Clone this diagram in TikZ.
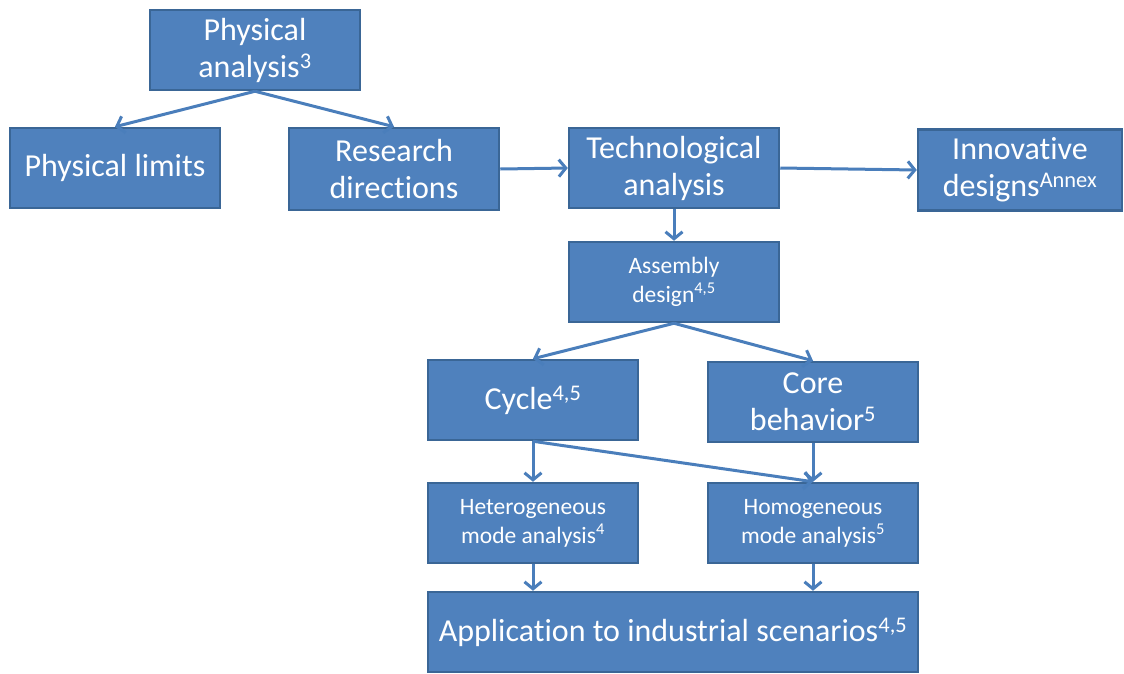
\documentclass[tikz,border=0pt]{standalone}
\usepackage{fontspec}
\setmainfont{Carlito}[Ligatures={NoCommon}]
\usepackage{xcolor}
\usetikzlibrary{arrows.meta}
\definecolor{boxfill}{HTML}{4F81BD}
\definecolor{boxline}{HTML}{3A6696}
\definecolor{linkblue}{HTML}{4A7EBB}
\tikzset{
  bigbox/.style={draw=boxline,fill=boxfill,line width=2.5pt,text=white,align=center,
    minimum width=210pt,minimum height=80pt,inner sep=0pt,font=\fontsize{32}{37}\selectfont},
  smallbox/.style={bigbox,font=\fontsize{23.5}{29}\selectfont},
  link/.style={draw=linkblue,line width=3pt,-{Straight Barb[length=7pt,width=17pt]}}
}

\begin{document}
\begin{tikzpicture}[x=1pt,y=-1pt]
\useasboundingbox (0,0) rectangle (1124,673);
\node[bigbox] (physan) at (255,50) {Physical\\analysis\textsuperscript{3}};
\node[bigbox] (limits) at (115,168) {Physical limits};
\node[bigbox,minimum height=82pt] (research) at (394,169) {Research\\directions};
\node[bigbox] (techan) at (674,168) {Technological\\analysis};
\node[bigbox,minimum width=204pt,minimum height=81pt] (innov) at (1020,170) {Innovative\\designs\textsuperscript{Annex}};
\node[smallbox] (assembly) at (674,282) {Assembly\\design\textsuperscript{4,5}};
\node[bigbox] (cycle) at (533,400) {Cycle\textsuperscript{4,5}};
\node[bigbox] (core) at (813,402) {Core\\behavior\textsuperscript{5}};
\node[smallbox] (hetero) at (533,523) {Heterogeneous\\mode analysis\textsuperscript{4}};
\node[smallbox] (homo) at (813,523) {Homogeneous\\mode analysis\textsuperscript{5}};
\node[bigbox,minimum width=490pt] (appli) at (673,632) {Application to industrial scenarios\textsuperscript{4,5}};

\draw[link] (physan.south) -- (limits.north);
\draw[link] (physan.south) -- (research.north);
\draw[link] (research.east) -- (techan.west);
\draw[link] (techan.east) -- (innov.west);
\draw[link] (techan.south) -- (assembly.north);
\draw[link] (assembly.south) -- (cycle.north);
\draw[link] (assembly.south) -- (core.north);
\draw[link] (cycle.south) -- (hetero.north);
\draw[link] (cycle.south) -- (homo.north);
\draw[link] (core.south) -- (homo.north);
\draw[link] (hetero.south) -- (hetero.south |- appli.north);
\draw[link] (homo.south) -- (homo.south |- appli.north);
\end{tikzpicture}
\end{document}
